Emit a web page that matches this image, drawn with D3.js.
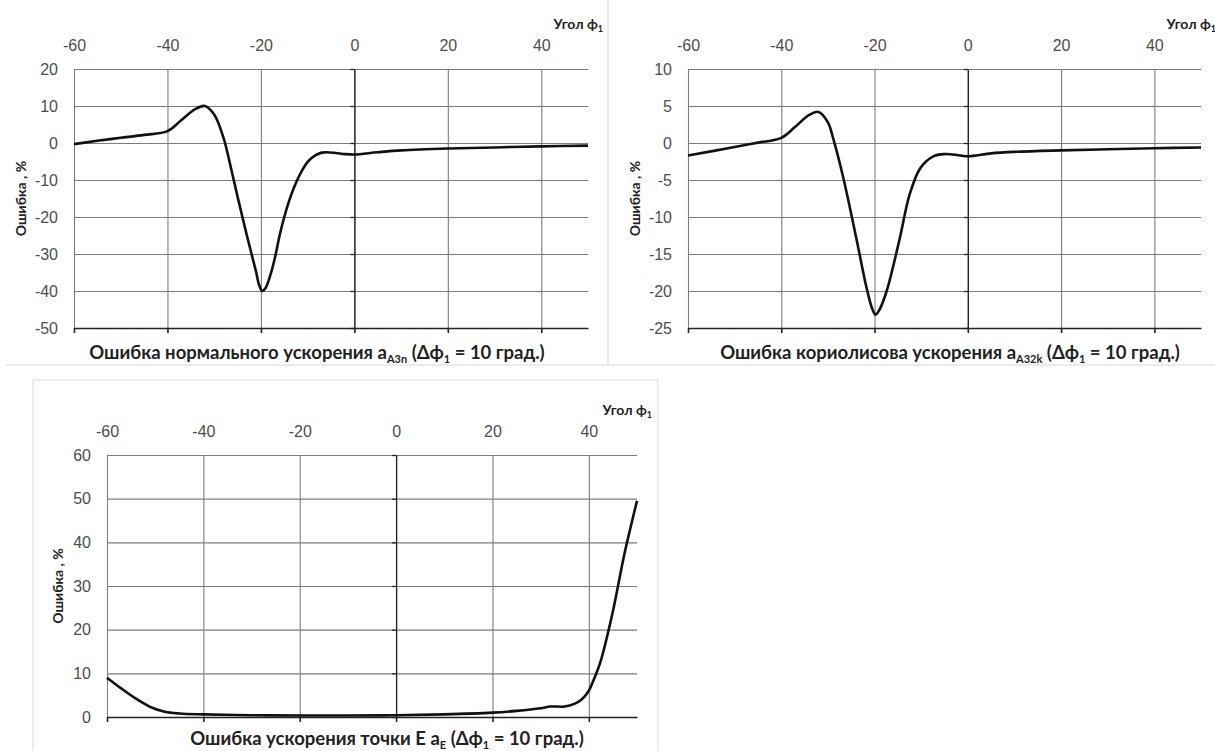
<!DOCTYPE html>
<html>
<head>
<meta charset="utf-8">
<script src="https://cdn.jsdelivr.net/npm/d3@7"></script>
<style>
  body { margin: 0; background: #fff; }
  svg { display: block; font-family: Lato, "Open Sans", sans-serif; }
</style>
</head>
<body>
<svg id="chart" width="1215" height="751"></svg>
<script>
// angle ticks shared by all three charts
var xTicks = [-60, -40, -20, 0, 20, 40];

// normal acceleration error a_A3n
var phiA3n = [-60, -55, -50, -45, -40, -37, -34, -32, -30, -28, -27, -26, -25, -24, -23, -22, -21, -20.4, -19.7, -19, -18, -17, -16, -15, -14, -13, -12, -11, -10, -9, -8, -7, -6, -4, -2, 0, 5, 10, 20, 30, 40, 50];
var errA3n = [-0.3, 0.6, 1.4, 2.2, 3.2, 6.2, 9.2, 10, 7.7, 1.4, -3.5, -9, -14.5, -19.8, -25, -30, -35, -38.3, -40, -39.2, -35.8, -31, -25, -20, -15.8, -12.3, -9.4, -7, -5.1, -3.9, -3.1, -2.6, -2.5, -2.7, -3, -3.1, -2.5, -2.0, -1.5, -1.2, -0.9, -0.7];
var ticksA3n = [-50, -40, -30, -20, -10, 0, 10, 20];

// coriolis acceleration error a_A32k
var phiA32k = [-60, -50, -45, -40, -37, -34, -32, -30, -28.9, -26.7, -23.9, -21.7, -20.5, -19.8, -19, -17.4, -14.6, -12.5, -10.2, -7.4, -5, -2, 0, 5, 10, 20, 30, 40, 50];
var errA32k = [-1.7, -0.55, 0.05, 0.7, 2.2, 3.8, 4.2, 2.8, 0.7, -4.7, -12.9, -19.6, -22.4, -23.2, -22.6, -20, -12.9, -7, -3.4, -1.8, -1.5, -1.65, -1.8, -1.4, -1.2, -1.0, -0.85, -0.7, -0.6];
var ticksA32k = [-25, -20, -15, -10, -5, 0, 5, 10];

// acceleration error of point E
var phiE = [-60, -57, -54, -51, -48, -45, -40, -30, -20, -10, 0, 10, 20, 25, 30, 32, 35, 37, 38.5, 40, 41, 42.3, 44.9, 47.4, 50];
var errE = [9, 6.5, 4.2, 2.3, 1.2, 0.8, 0.6, 0.4, 0.35, 0.35, 0.4, 0.6, 1.0, 1.4, 2.0, 2.4, 2.4, 3.0, 4.0, 6.0, 8.5, 12.2, 23.7, 37.4, 49.5];
var ticksE = [0, 10, 20, 30, 40, 50, 60];

var svg = d3.select("#chart");

// panel frames
var frame = svg.append("g").attr("stroke", "#d9d9d9").attr("fill", "none");
frame.append("line").attr("x1", 608).attr("y1", 0).attr("x2", 608).attr("y2", 365);
frame.append("line").attr("x1", 6).attr("y1", 365).attr("x2", 1215).attr("y2", 365);
frame.append("path").attr("d", "M33,751V380H658V751");

drawChart({
  x0: 74, x1: 588, y0: 69, y1: 328,
  phi: phiA3n, err: errA3n, yTicks: ticksA3n,
  ytitleX: 21, titleX: 317, titleY: 359,
  sub: "A3n", lead: "Ошибка нормального ускорения a"
});
drawChart({
  x0: 688, x1: 1201, y0: 69, y1: 328,
  phi: phiA32k, err: errA32k, yTicks: ticksA32k,
  ytitleX: 635, titleX: 950, titleY: 359,
  sub: "A32k", lead: "Ошибка кориолисова ускорения a"
});
drawChart({
  x0: 107, x1: 637, y0: 455, y1: 717,
  phi: phiE, err: errE, yTicks: ticksE,
  ytitleX: 58, titleX: 387, titleY: 745,
  sub: "E", lead: "Ошибка ускорения точки E a"
});

function drawChart(c){
  var x = d3.scaleLinear().domain([-60, 50]).range([c.x0, c.x1]);
  var y = d3.scaleLinear().domain([c.yTicks[0], c.yTicks[c.yTicks.length - 1]]).range([c.y1, c.y0]);
  var w = c.x1 - c.x0, h = c.y1 - c.y0;
  var g = svg.append("g");
  var fmt = function(d){ return String(d); };

  // grid
  g.append("g")
    .attr("transform", "translate(" + c.x0 + ",0)")
    .call(d3.axisLeft(y).tickValues(c.yTicks).tickSize(-w).tickFormat(""))
    .call(function(s){ s.select(".domain").remove(); s.selectAll("line").attr("stroke", "#7d7d7d").attr("stroke-width", 1.1); });
  g.append("g")
    .attr("transform", "translate(0," + c.y1 + ")")
    .call(d3.axisBottom(x).tickValues(xTicks).tickSize(-h).tickFormat(""))
    .call(function(s){ s.select(".domain").remove(); s.selectAll("line").attr("stroke", "#7d7d7d").attr("stroke-width", 1.1); });

  // labels: angle on top, error on the left
  g.append("g")
    .attr("transform", "translate(0," + (c.y0 - 18) + ")")
    .call(d3.axisTop(x).tickValues(xTicks).tickSize(0).tickPadding(0).tickFormat(fmt))
    .call(function(s){ s.select(".domain").remove(); s.selectAll("text").attr("fill", "#4d4d4d").style("font-size", "16px"); });
  g.append("g")
    .attr("transform", "translate(" + c.x0 + ",0)")
    .call(d3.axisLeft(y).tickValues(c.yTicks).tickSize(0).tickPadding(16).tickFormat(fmt))
    .call(function(s){ s.select(".domain").remove(); s.selectAll("text").attr("fill", "#4d4d4d").style("font-size", "16px"); });

  // vertical axis through zero
  g.append("g")
    .attr("transform", "translate(" + x(0) + ",0)")
    .call(d3.axisLeft(y).tickValues(c.yTicks).tickSize(4).tickSizeOuter(0).tickFormat(""))
    .call(function(s){ s.selectAll("line,path").attr("stroke", "#222").attr("stroke-width", 1.3); });
  // bottom axis
  g.append("g")
    .attr("transform", "translate(0," + c.y1 + ")")
    .call(d3.axisBottom(x).tickValues(xTicks).tickSize(5).tickSizeOuter(0).tickFormat(""))
    .call(function(s){ s.selectAll("line,path").attr("stroke", "#222").attr("stroke-width", 1.6); });

  // curve
  var pts = c.phi.map(function(d, i){ return [d, c.err[i]]; });
  g.append("path")
    .datum(pts)
    .attr("fill", "none")
    .attr("stroke", "#111")
    .attr("stroke-width", 2.6)
    .attr("stroke-linejoin", "round")
    .attr("d", d3.line().x(function(d){ return x(d[0]); }).y(function(d){ return y(d[1]); }).curve(d3.curveCatmullRom.alpha(0.5)));

  // y title
  g.append("text")
    .attr("transform", "translate(" + c.ytitleX + "," + ((c.y0 + c.y1) / 2) + ") rotate(-90)")
    .attr("text-anchor", "middle").attr("dy", "0.35em")
    .style("font-size", "14px").style("font-weight", "bold").attr("fill", "#222")
    .text("Ошибка , %");

  // angle label
  var ang = g.append("text")
    .attr("x", c.x1 + 15).attr("y", c.y0 - 40)
    .attr("text-anchor", "end")
    .style("font-size", "14px").style("font-weight", "bold").attr("fill", "#222");
  ang.append("tspan").text("Угол ϕ");
  ang.append("tspan").attr("dy", 3).style("font-size", "9px").text("1");

  // chart title
  var t = g.append("text")
    .attr("x", c.titleX).attr("y", c.titleY)
    .attr("text-anchor", "middle")
    .style("font-size", "18.5px").style("font-weight", "bold").attr("fill", "#222");
  t.append("tspan").text(c.lead);
  t.append("tspan").attr("dy", 4).style("font-size", "11px").text(c.sub);
  t.append("tspan").attr("dy", -4).text(" (Δϕ");
  t.append("tspan").attr("dy", 4).style("font-size", "11px").text("1");
  t.append("tspan").attr("dy", -4).text(" = 10 град.)");
}
</script>
</body>
</html>
